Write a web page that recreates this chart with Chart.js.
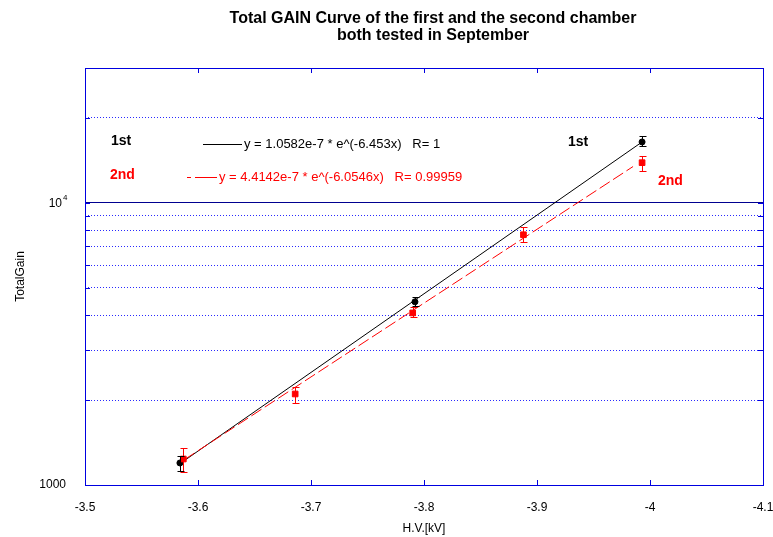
<!DOCTYPE html>
<html>
<head>
<meta charset="utf-8">
<script src="https://cdn.jsdelivr.net/npm/chart.js@4.4.1/dist/chart.umd.min.js"></script>
<style>
  html, body { margin: 0; padding: 0; background: #fff; }
</style>
</head>
<body>
<canvas id="gainChart" width="773" height="537"></canvas>
<script>
// ─── Data ─────────────────────────────────────────────────
// 1st chamber (black)
const HV_FIRST      = [-3.584, -3.792, -3.993];
const GAIN_FIRST    = [1197, 4455, 16410];
const ERR_LO_FIRST  = [1121, 4313, 15890];
const ERR_HI_FIRST  = [1267, 4642, 17260];

// 2nd chamber (red)
const HV_SECOND     = [-3.587, -3.686, -3.790, -3.888, -3.993];
const GAIN_SECOND   = [1236, 2101, 4070, 7700, 13860];
const ERR_LO_SECOND = [1112, 1953, 3943, 7280, 12990];
const ERR_HI_SECOND = [1353, 2225, 4280, 8226, 14690];

// fit lines (end points as drawn)
const FIT_HV_FIRST    = [-3.584, -3.993];
const FIT_GAIN_FIRST  = [1190, 16410];
const FIT_HV_SECOND   = [-3.588, -3.985];
const FIT_GAIN_SECOND = [1230, 13430];

// ticks
const X_TICKS = [-3.5, -3.6, -3.7, -3.8, -3.9, -4, -4.1];
const Y_TICKS = [1000, 2000, 3000, 4000, 5000, 6000, 7000, 8000, 9000, 10000, 20000, 30000];

const FONT = '"Liberation Sans", Arial, sans-serif';
const FRAME_BLUE = '#0000e0';

const toPoints = (xs, ys) => xs.map((x, i) => ({ x, y: ys[i] }));

// ─── Plugins ──────────────────────────────────────────────
// error bars
const errorBars = {
  id: 'errorBars',
  afterDatasetsDraw(chart) {
    const { ctx, scales: { x, y } } = chart;
    ctx.save();
    chart.data.datasets.forEach(ds => {
      if (!ds.errLo) return;
      ctx.strokeStyle = ds.borderColor;
      ctx.lineWidth = 1;
      ds.data.forEach((p, i) => {
        const px = Math.round(x.getPixelForValue(p.x)) + 0.5;
        const y1 = Math.round(y.getPixelForValue(ds.errHi[i])) + 0.5;
        const y2 = Math.round(y.getPixelForValue(ds.errLo[i])) + 0.5;
        ctx.beginPath();
        ctx.moveTo(px, y1); ctx.lineTo(px, y2);
        ctx.moveTo(px - 3, y1); ctx.lineTo(px + 4, y1);
        ctx.moveTo(px - 3, y2); ctx.lineTo(px + 4, y2);
        ctx.stroke();
      });
    });
    ctx.restore();
  }
};

// frame, inner ticks, title and text labels
const decor = {
  id: 'decor',
  afterDraw(chart) {
    const { ctx, chartArea: a, scales: { x, y } } = chart;
    ctx.save();
    ctx.strokeStyle = FRAME_BLUE;
    ctx.lineWidth = 1;
    ctx.strokeRect(a.left + 0.5, a.top + 0.5, a.right - a.left, a.bottom - a.top);

    ctx.beginPath();
    X_TICKS.forEach(v => {
      const px = Math.round(x.getPixelForValue(v)) + 0.5;
      ctx.moveTo(px, a.bottom); ctx.lineTo(px, a.bottom - 5);
      ctx.moveTo(px, a.top);    ctx.lineTo(px, a.top + 5);
    });
    Y_TICKS.forEach(v => {
      const py = Math.round(y.getPixelForValue(v)) + 0.5;
      ctx.moveTo(a.left, py);  ctx.lineTo(a.left + 5, py);
      ctx.moveTo(a.right, py); ctx.lineTo(a.right - 5, py);
    });
    ctx.stroke();

    // title
    ctx.fillStyle = '#000';
    ctx.textAlign = 'center';
    ctx.textBaseline = 'middle';
    ctx.font = 'bold 16px ' + FONT;
    ctx.fillText('Total GAIN Curve of the first and the second chamber', 433, 19);
    ctx.fillText('both tested in September', 433, 36);

    // 10^4 label
    const py4 = y.getPixelForValue(10000);
    ctx.font = '12px ' + FONT;
    ctx.textAlign = 'right';
    ctx.fillText('10', 62, py4 + 1);
    ctx.font = '8px ' + FONT;
    ctx.textAlign = 'left';
    ctx.fillText('4', 63, py4 - 5);

    // labels in the plot
    ctx.font = 'bold 14px ' + FONT;
    ctx.fillStyle = '#000';
    ctx.fillText('1st', 111, 141);
    ctx.fillText('1st', 568, 142);
    ctx.fillStyle = '#ff0000';
    ctx.fillText('2nd', 110, 175);
    ctx.fillText('2nd', 658, 181);

    // fit legend
    ctx.font = '13px ' + FONT;
    ctx.strokeStyle = '#000';
    ctx.beginPath();
    ctx.moveTo(203, 144.5); ctx.lineTo(242, 144.5);
    ctx.stroke();
    ctx.fillStyle = '#000';
    ctx.fillText('y = 1.0582e-7 * e^(-6.453x)   R= 1', 244, 144);

    ctx.strokeStyle = '#ff0000';
    ctx.setLineDash([4, 4, 22, 0]);
    ctx.beginPath();
    ctx.moveTo(187, 177.5); ctx.lineTo(217, 177.5);
    ctx.stroke();
    ctx.setLineDash([]);
    ctx.fillStyle = '#ff0000';
    ctx.fillText('y = 4.4142e-7 * e^(-6.0546x)   R= 0.99959', 219, 177);
    ctx.restore();
  }
};

// ─── Chart ────────────────────────────────────────────────
new Chart(document.getElementById('gainChart'), {
  type: 'scatter',
  data: {
    datasets: [
      {
        label: '2nd',
        data: toPoints(HV_SECOND, GAIN_SECOND),
        errLo: ERR_LO_SECOND,
        errHi: ERR_HI_SECOND,
        borderColor: '#ff0000',
        backgroundColor: '#ff0000',
        pointStyle: 'rect',
        pointRadius: 4,
        order: 0,
      },
      {
        label: '1st',
        data: toPoints(HV_FIRST, GAIN_FIRST),
        errLo: ERR_LO_FIRST,
        errHi: ERR_HI_FIRST,
        borderColor: '#000000',
        backgroundColor: '#000000',
        pointStyle: 'circle',
        pointRadius: 3,
        order: 1,
      },
      {
        label: 'fit 2nd',
        type: 'line',
        data: toPoints(FIT_HV_SECOND, FIT_GAIN_SECOND),
        borderColor: '#ff0000',
        borderWidth: 1,
        borderDash: [12, 4],
        pointRadius: 0,
        fill: false,
        order: 2,
      },
      {
        label: 'fit 1st',
        type: 'line',
        data: toPoints(FIT_HV_FIRST, FIT_GAIN_FIRST),
        borderColor: '#000000',
        borderWidth: 1,
        pointRadius: 0,
        fill: false,
        order: 3,
      },
    ]
  },
  options: {
    responsive: false,
    animation: false,
    layout: { padding: { top: 68, right: 10, left: 0, bottom: 0 } },
    plugins: { legend: { display: false }, tooltip: { enabled: false }, title: { display: false } },
    scales: {
      x: {
        type: 'linear',
        min: -4.1,
        max: -3.5,
        reverse: true,
        afterBuildTicks: s => { s.ticks = X_TICKS.map(v => ({ value: v })); },
        afterFit: s => { s.height = 52; s.paddingLeft = 0; s.paddingRight = 0; },
        grid: { display: false },
        border: { display: false },
        ticks: {
          padding: 7,
          color: '#000',
          font: { family: FONT, size: 12 },
          maxRotation: 0,
          autoSkip: false,
          callback: v => String(Math.round(v * 10) / 10),
        },
        title: {
          display: true,
          text: 'H.V.[kV]',
          color: '#000',
          font: { family: FONT, size: 12 },
          padding: { top: 0, bottom: 1 },
        },
      },
      y: {
        type: 'logarithmic',
        min: 1000,
        max: 30000,
        afterBuildTicks: s => { s.ticks = Y_TICKS.map(v => ({ value: v })); },
        afterFit: s => { s.width = 85; s.paddingTop = 0; s.paddingBottom = 0; },
        grid: {
          drawTicks: false,
          lineWidth: 1,
          color: ctx => {
            const v = ctx.tick ? ctx.tick.value : 0;
            if (v === 10000) return '#000090';
            if (v === 1000 || v === 30000) return 'rgba(0,0,0,0)';
            return '#2a2aff';
          },
        },
        border: {
          display: false,
          dash: ctx => (ctx.tick && ctx.tick.value !== 10000) ? [1, 2] : [],
        },
        ticks: {
          padding: 19,
          color: '#000',
          autoSkip: false,
          font: { family: FONT, size: 12 },
          callback: v => (v === 1000 ? '1000' : ''),
        },
        title: {
          display: true,
          text: 'TotalGain',
          color: '#000',
          font: { family: FONT, size: 12 },
          padding: { top: 13, bottom: 0 },
        },
      },
    },
  },
  plugins: [errorBars, decor],
});
</script>
</body>
</html>
